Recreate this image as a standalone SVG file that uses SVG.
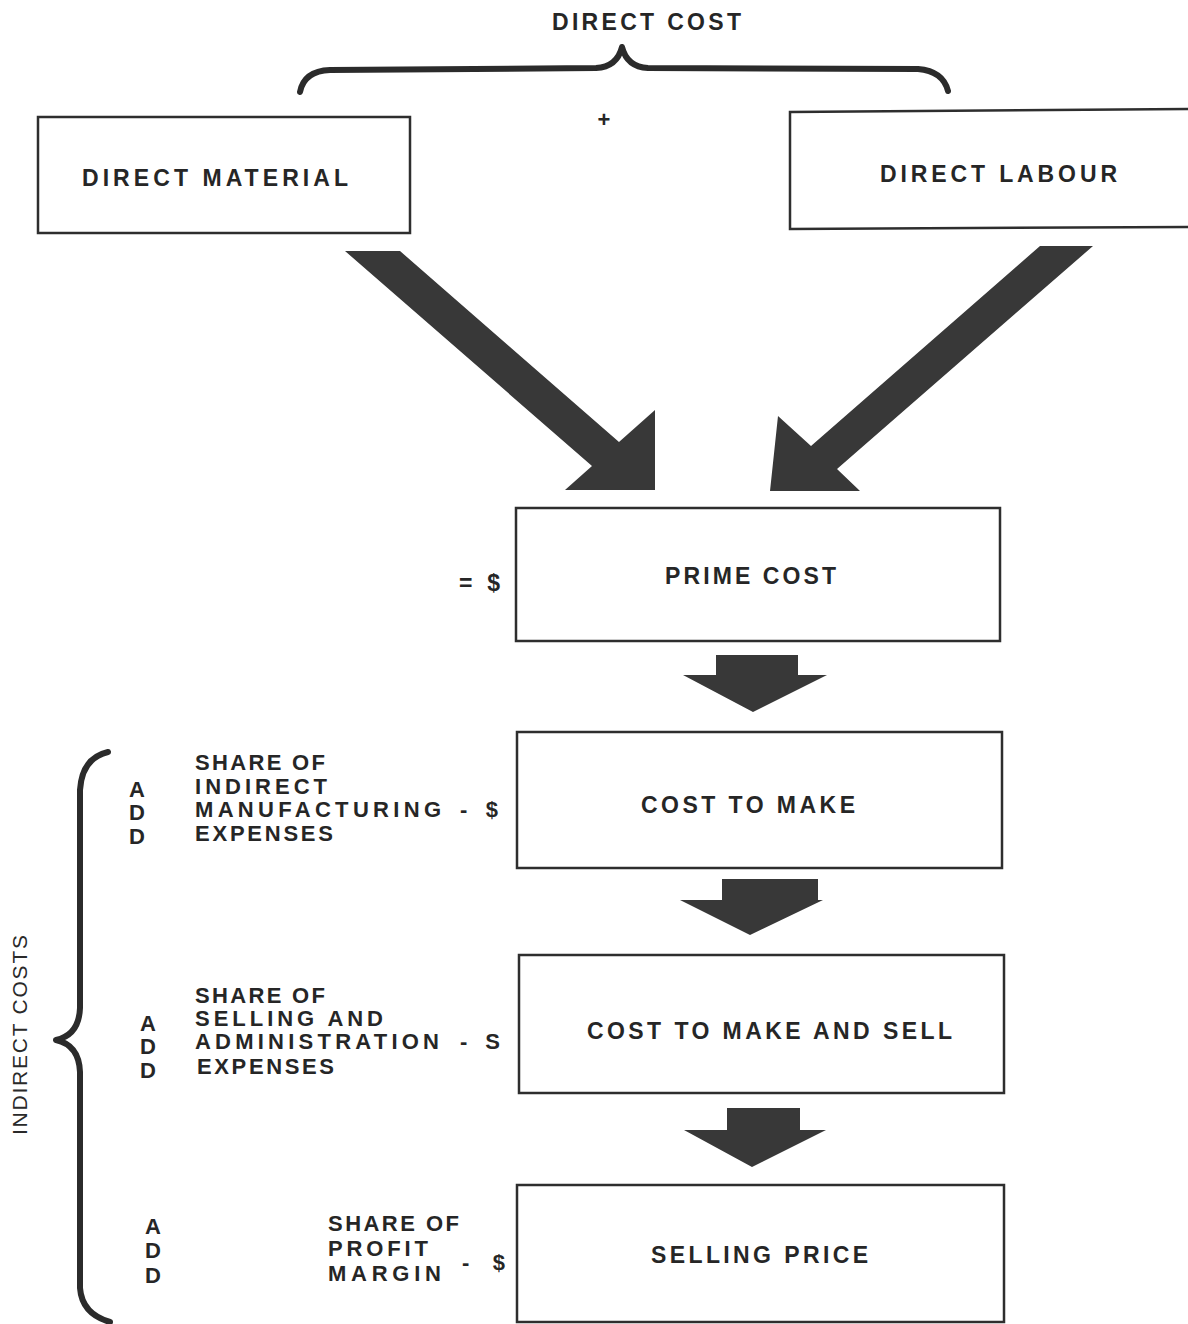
<svg xmlns="http://www.w3.org/2000/svg" width="1188" height="1324" viewBox="0 0 1188 1324">
<style>
  .bg { fill: #ffffff; }
  .box { fill: none; stroke: #2e2e2e; stroke-width: 2.5; }
  .t { font-family: "Liberation Sans", Arial, sans-serif; font-weight: bold; font-size: 23px; fill: #262626; }
  .s { font-family: "Liberation Sans", Arial, sans-serif; font-weight: bold; font-size: 22px; fill: #262626; }
  .v { font-family: "Liberation Sans", Arial, sans-serif; font-weight: normal; font-size: 21px; fill: #2a2a2a; }
  .brace { fill: none; stroke: #2b2b2b; stroke-width: 6; stroke-linecap: round; stroke-linejoin: round; }
  .arrow { fill: #383838; }
</style>
<rect class="bg" x="0" y="0" width="1188" height="1324"/>

<g id="brace-top">
  <path class="brace" d="M300,92 Q304,71 330,70 L596,68 Q617,67 622,47 Q627,67 648,68 L918,69 Q943,71 948,91"/>
  <text class="t" x="552" y="30" textLength="189" lengthAdjust="spacing">DIRECT COST</text>
  <text class="s" x="604" y="127" text-anchor="middle" font-size="19">+</text>
</g>

<g id="direct-material">
  <rect class="box" x="38" y="117" width="372" height="116"/>
  <text class="t" x="82" y="186" textLength="266" lengthAdjust="spacing">DIRECT MATERIAL</text>
</g>

<g id="direct-labour">
  <path class="box" d="M1190,109 L790,112 L790,229 L1190,227"/>
  <text class="t" x="880" y="182" textLength="237" lengthAdjust="spacing">DIRECT LABOUR</text>
</g>

<g id="prime-cost">
  <rect class="box" x="516" y="508" width="484" height="133"/>
  <text class="t" x="665" y="584" textLength="171" lengthAdjust="spacing">PRIME COST</text>
  <text class="t" x="459" y="591" textLength="41" lengthAdjust="spacing">= $</text>
</g>

<g id="cost-to-make">
  <rect class="box" x="517" y="732" width="485" height="136"/>
  <text class="t" x="641" y="813" textLength="214" lengthAdjust="spacing">COST TO MAKE</text>
</g>

<g id="cost-to-make-and-sell">
  <rect class="box" x="519" y="955" width="485" height="138"/>
  <text class="t" x="587" y="1039" textLength="365" lengthAdjust="spacing">COST TO MAKE AND SELL</text>
</g>

<g id="selling-price">
  <rect class="box" x="517" y="1185" width="487" height="137"/>
  <text class="t" x="651" y="1263" textLength="217" lengthAdjust="spacing">SELLING PRICE</text>
</g>

<g id="add-manufacturing">
  <text class="s" x="137" y="797" text-anchor="middle">A</text>
  <text class="s" x="137" y="820" text-anchor="middle">D</text>
  <text class="s" x="137" y="844" text-anchor="middle">D</text>
  <text class="s" x="195" y="770" textLength="130" lengthAdjust="spacing">SHARE OF</text>
  <text class="s" x="195" y="794" textLength="132" lengthAdjust="spacing">INDIRECT</text>
  <text class="s" x="195" y="817" textLength="246" lengthAdjust="spacing">MANUFACTURING</text>
  <text class="s" x="460" y="817" textLength="38" lengthAdjust="spacing">- $</text>
  <text class="s" x="195" y="841" textLength="138" lengthAdjust="spacing">EXPENSES</text>
</g>

<g id="add-selling">
  <text class="s" x="148" y="1031" text-anchor="middle">A</text>
  <text class="s" x="148" y="1054" text-anchor="middle">D</text>
  <text class="s" x="148" y="1078" text-anchor="middle">D</text>
  <text class="s" x="195" y="1003" textLength="130" lengthAdjust="spacing">SHARE OF</text>
  <text class="s" x="195" y="1026" textLength="188" lengthAdjust="spacing">SELLING AND</text>
  <text class="s" x="195" y="1049" textLength="244" lengthAdjust="spacing">ADMINISTRATION</text>
  <text class="s" x="460" y="1049" textLength="40" lengthAdjust="spacing">- S</text>
  <text class="s" x="197" y="1074" textLength="137" lengthAdjust="spacing">EXPENSES</text>
</g>

<g id="add-profit">
  <text class="s" x="153" y="1234" text-anchor="middle">A</text>
  <text class="s" x="153" y="1258" text-anchor="middle">D</text>
  <text class="s" x="153" y="1283" text-anchor="middle">D</text>
  <text class="s" x="328" y="1231" textLength="131" lengthAdjust="spacing">SHARE OF</text>
  <text class="s" x="328" y="1256" textLength="100" lengthAdjust="spacing">PROFIT</text>
  <text class="s" x="328" y="1281" textLength="113" lengthAdjust="spacing">MARGIN</text>
  <text class="s" x="462" y="1270" textLength="43" lengthAdjust="spacing">- $</text>
</g>

<g id="brace-indirect">
  <path class="brace" d="M108,752 Q82,758 80,790 L80,1008 Q79,1035 56,1040 Q79,1045 80,1072 L80,1288 Q82,1314 110,1322"/>
  <text class="v" transform="translate(27,1035) rotate(-90)" x="0" y="0" text-anchor="middle" textLength="200" lengthAdjust="spacing">INDIRECT COSTS</text>
</g>

<g id="connectors">
  <polygon class="arrow" points="345,251 400,251 619,442 655,410 655,490 565,490 592,466"/>
  <polygon class="arrow" points="1040,246 1093,246 837,469 860,491 770,491 778,416 811,446"/>
  <polygon class="arrow" points="716,655 798,655 798,675 827,675 753,712 683,675 716,675"/>
  <polygon class="arrow" points="722,879 818,879 818,900 823,900 750,935 680,900 722,900"/>
  <polygon class="arrow" points="727,1108 800,1108 800,1130 826,1130 752,1167 684,1130 727,1130"/>
</g>
</svg>
